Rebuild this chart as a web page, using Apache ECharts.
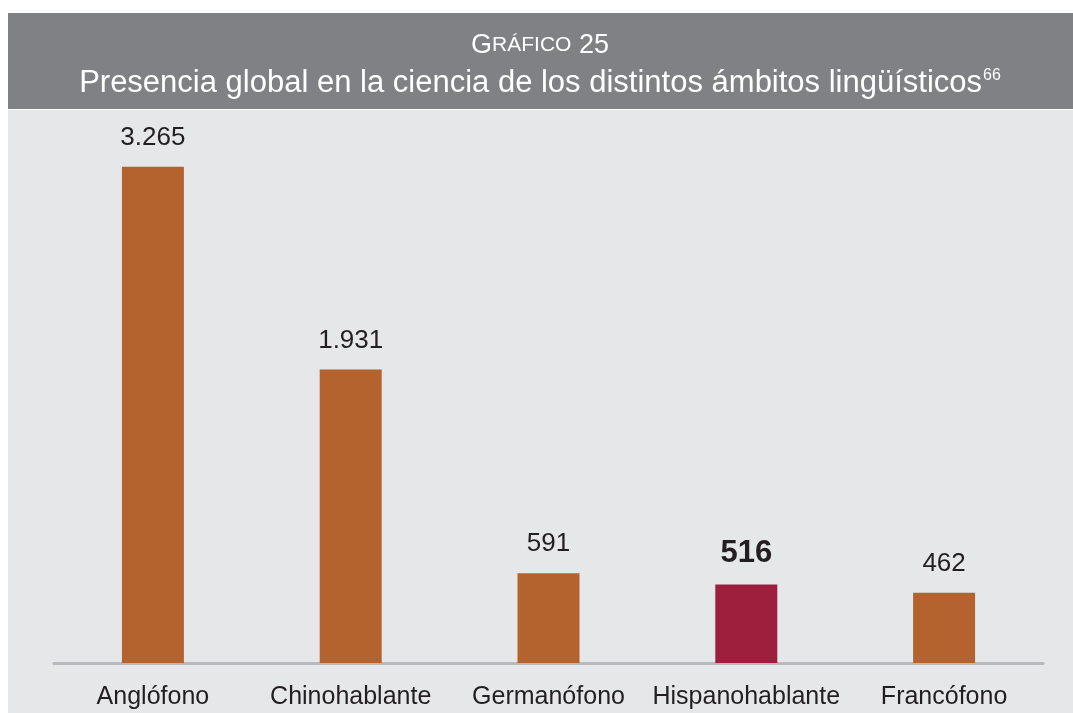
<!DOCTYPE html>
<html>
<head>
<meta charset="utf-8">
<script src="https://cdn.jsdelivr.net/npm/echarts@6/dist/echarts.min.js"></script>
<style>
html,body{margin:0;padding:0;background:#ffffff;}
#c{width:1073px;height:713px;}
</style>
</head>
<body>
<div id="c"></div>
<script>
const categories = ['Anglófono', 'Chinohablante', 'Germanófono', 'Hispanohablante', 'Francófono'];
const values = [3265, 1931, 591, 516, 462];
const highlightIndex = 3;

function fmt(v) {
  return String(v).replace(/\B(?=(\d{3})+(?!\d))/g, '.');
}

const chart = echarts.init(document.getElementById('c'), null, {renderer: 'canvas'});
const FONT = '"Liberation Sans", Arial, sans-serif';

chart.setOption({
  backgroundColor: '#ffffff',
  animation: false,
  graphic: [
    {type: 'rect', z: -10, shape: {x: 8, y: 13, width: 1065, height: 96}, style: {fill: '#808184'}},
    {type: 'rect', z: -10, shape: {x: 8, y: 110, width: 1065, height: 603}, style: {fill: '#e6e7e9'}},
    {type: 'text', z: 10, x: 540, y: 32,
      style: {
        text: '{a|G}{b|RÁFICO}{a| 25}',
        align: 'center',
        rich: {
          a: {fontSize: 27, fontFamily: FONT, fill: '#ffffff'},
          b: {fontSize: 21, fontFamily: FONT, fill: '#ffffff'}
        }
      }
    },
    {type: 'text', z: 10, x: 540, y: 68,
      style: {
        text: '{a|Presencia global en la ciencia de los distintos ámbitos lingüísticos}{s|66}',
        align: 'center',
        rich: {
          a: {fontSize: 31, fontFamily: FONT, fill: '#ffffff'},
          s: {fontSize: 16, fontFamily: FONT, fill: '#ffffff', verticalAlign: 'top', padding: [0, 0, 12, 1]}
        }
      }
    }
  ],
  grid: {left: 54, right: 30, top: 131, bottom: 50, containLabel: false},
  xAxis: {
    type: 'category',
    data: categories,
    axisLine: {lineStyle: {color: '#b8b9bc', width: 3}},
    axisTick: {show: false},
    axisLabel: {interval: 0, fontSize: 25, fontFamily: FONT, color: '#231f20', margin: 22}
  },
  yAxis: {
    type: 'value',
    min: 0, max: 3500,
    show: false,
    splitLine: {show: false}
  },
  series: [{
    type: 'bar',
    barWidth: 62,
    data: values.map((v, i) => ({
      value: v,
      itemStyle: {color: i === highlightIndex ? '#9e1f3d' : '#b4632f'},
      label: i === highlightIndex ? {fontSize: 31, fontWeight: 'bold'} : {}
    })),
    label: {
      show: true,
      position: 'top',
      distance: 16,
      fontSize: 26,
      fontFamily: FONT,
      color: '#231f20',
      formatter: p => fmt(p.value)
    }
  }]
});
</script>
</body>
</html>
